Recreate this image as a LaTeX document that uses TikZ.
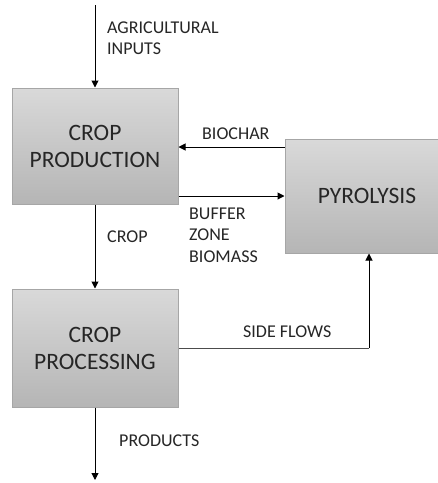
\documentclass[tikz,border=0pt]{standalone}
\usepackage{fontspec}
\setmainfont{Carlito}
\usetikzlibrary{arrows.meta}
\definecolor{boxtop}{HTML}{D9D9D9}
\definecolor{boxbot}{HTML}{B5B5B5}
\definecolor{boxline}{HTML}{A6A6A6}
\definecolor{txt}{HTML}{262626}
\begin{document}
\begin{tikzpicture}[x=1pt,y=-1pt,
  procbox/.style={draw=boxline, line width=1pt, top color=boxtop, bottom color=boxbot,
     text=txt, align=center, font=\fontsize{23.5}{27}\selectfont, inner sep=0pt},
  lbl/.style={text=txt, font=\fontsize{18}{21.5}\selectfont, align=left, inner sep=0pt, anchor=west},
  flow/.style={-{Triangle[length=7pt,width=7pt]}, line width=1pt, draw=black},
  sideline/.style={line width=1pt, draw=black!70}]
\useasboundingbox (0,0) rectangle (438,483);
\fill[white] (0,0) rectangle (438,483);
\node[procbox, minimum width=166pt, minimum height=116pt] (prod) at (95,146) {CROP\\PRODUCTION};
\node[procbox, minimum width=156pt, minimum height=114pt] (pyro) at (363,196) {\hspace*{8pt}PYROLYSIS};
\node[procbox, minimum width=166pt, minimum height=118pt] (proc) at (95,348) {CROP\\PROCESSING};
\coordinate (topin) at (95,5);
\coordinate (botout) at (95,480);
\coordinate (corner) at (369,348);
\draw[flow] (topin) -- (prod.north);
\draw[flow] (prod.south) -- (proc.north);
\draw[flow] (proc.south) -- (botout);
\draw[flow] (pyro.west |- 0,147) -- (prod.east |- 0,147);
\draw[flow] (prod.east |- 0,196) -- (pyro.west |- 0,196);
\draw[sideline] (proc.east |- corner) -- (corner);
\draw[flow] (corner) -- (corner |- pyro.south);
\node[lbl] (agri) at (107,38) {AGRICULTURAL\\INPUTS};
\node[lbl] (biochar) at (202,134) {BIOCHAR};
\node[lbl] (buffer) at (189,235) {BUFFER\\ZONE\\BIOMASS};
\node[lbl] (crop) at (107,237) {CROP};
\node[lbl] (side) at (243,332) {SIDE FLOWS};
\node[lbl] (products) at (119,441) {PRODUCTS};
\end{tikzpicture}
\end{document}
